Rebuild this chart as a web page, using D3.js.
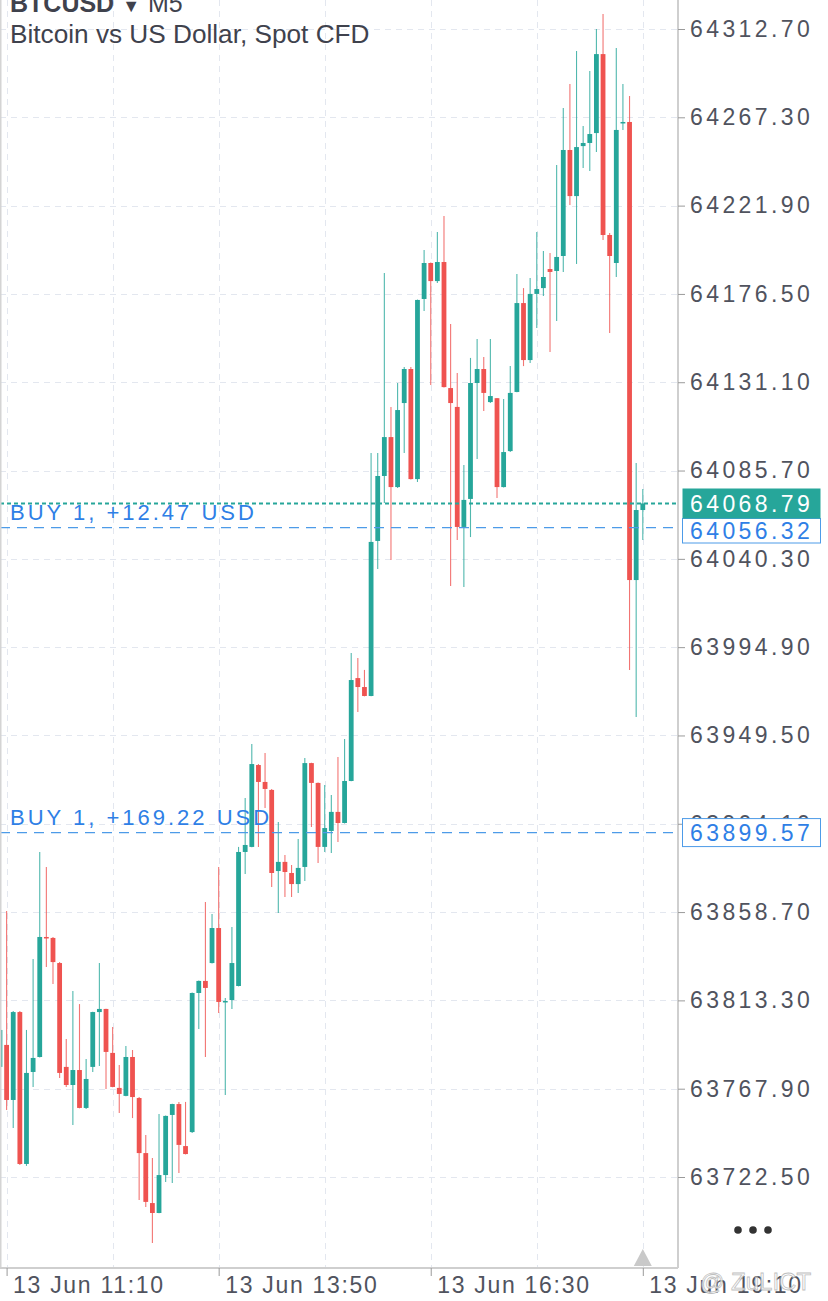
<!DOCTYPE html>
<html>
<head>
<meta charset="utf-8">
<script src="https://cdn.jsdelivr.net/npm/d3@7"></script>
<style>
  html, body { margin: 0; padding: 0; background: #fff; }
  svg { display: block; font-family: "Liberation Sans", Arial, sans-serif; }
</style>
</head>
<body>
<script>
// 5 minute bars, 13 Jun
const times = [
  "11:05","11:10","11:15","11:20","11:25","11:30","11:35","11:40","11:45","11:50","11:55",
  "12:00","12:05","12:10","12:15","12:20","12:25","12:30","12:35","12:40","12:45","12:50","12:55",
  "13:00","13:05","13:10","13:15","13:20","13:25","13:30","13:35","13:40","13:45","13:50","13:55",
  "14:00","14:05","14:10","14:15","14:20","14:25","14:30","14:35","14:40","14:45","14:50","14:55",
  "15:00","15:05","15:10","15:15","15:20","15:25","15:30","15:35","15:40","15:45","15:50","15:55",
  "16:00","16:05","16:10","16:15","16:20","16:25","16:30","16:35","16:40","16:45","16:50","16:55",
  "17:00","17:05","17:10","17:15","17:20","17:25","17:30","17:35","17:40","17:45","17:50","17:55",
  "18:00","18:05","18:10","18:15","18:20","18:25","18:30","18:35","18:40","18:45","18:50","18:55",
  "19:00","19:05","19:10"
];

const opens = [
  63779.1, 63790.4, 63762.1, 63807.3, 63729.2, 63776.5, 63784.2, 63845.9, 63845.4, 63832.5, 63779.1,
  63769.8, 63777.5, 63758.0, 63779.1, 63807.3, 63808.9, 63786.3, 63768.3, 63764.2, 63784.2, 63763.1, 63734.8,
  63709.1, 63704.0, 63723.5, 63754.4, 63760.0, 63738.4, 63745.6, 63817.1, 63823.3, 63832.5, 63850.5, 63812.7,
  63813.5, 63820.7, 63889.6, 63892.2, 63934.3, 63925.6, 63921.5, 63879.8, 63884.5, 63878.8, 63873.1, 63881.9,
  63935.3, 63925.1, 63892.2, 63900.4, 63910.2, 63904.5, 63926.1, 63979.0, 63974.4, 63969.8, 64049.5, 64082.9,
  64102.9, 64077.2, 64120.4, 64137.9, 64081.3, 64173.9, 64192.4, 64183.1, 64192.9, 64128.1, 64118.4, 64056.7,
  64071.1, 64130.7, 64137.9, 64120.9, 64122.9, 64077.2, 64095.7, 64126.1, 64171.8, 64142.5, 64176.5, 64179.5,
  64189.3, 64188.3, 64196.0, 64250.5, 64226.8, 64252.5, 64254.1, 64259.2, 64299.8, 64206.8, 64192.4, 64264.4,
  64264.9, 64029.4, 64065.4
];

const highs = [
  63800.7, 63859.3, 63807.8, 63807.8, 63798.1, 63834.6, 63889.6, 63881.9, 63845.9, 63833.0, 63793.4,
  63818.1, 63811.4, 63783.2, 63807.5, 63832.5, 63809.0, 63799.6, 63780.1, 63789.9, 63787.8, 63763.6, 63744.1,
  63732.3, 63754.9, 63754.1, 63760.2, 63761.1, 63761.1, 63817.3, 63823.5, 63863.9, 63857.7, 63881.9, 63814.5,
  63851.0, 63892.2, 63917.3, 63945.1, 63934.8, 63940.5, 63922.0, 63905.0, 63888.0, 63882.9, 63896.3, 63937.9,
  63935.5, 63925.3, 63924.0, 63918.9, 63938.4, 63947.7, 63991.9, 63989.3, 63983.2, 64094.7, 64094.7, 64187.3,
  64118.4, 64130.7, 64138.9, 64138.9, 64173.6, 64199.1, 64192.6, 64208.3, 64216.6, 64161.0, 64135.8, 64088.5,
  64143.6, 64153.3, 64144.1, 64153.3, 64123.0, 64122.5, 64139.4, 64186.7, 64179.5, 64184.7, 64208.3, 64198.6,
  64197.5, 64242.8, 64272.1, 64284.4, 64301.4, 64262.8, 64291.1, 64312.7, 64320.4, 64207.8, 64302.9, 64284.4,
  64278.2, 64089.6, 64076.2
];

const lows = [
  63776.5, 63757.0, 63747.7, 63728.7, 63728.2, 63768.8, 63784.0, 63830.5, 63821.7, 63773.4, 63768.8,
  63749.2, 63757.8, 63757.5, 63776.5, 63779.6, 63767.7, 63768.6, 63755.4, 63764.0, 63752.8, 63710.7, 63707.1,
  63688.6, 63703.8, 63719.9, 63719.4, 63724.6, 63734.1, 63745.1, 63798.6, 63784.2, 63832.3, 63806.8, 63764.7,
  63808.9, 63820.5, 63878.3, 63892.0, 63892.2, 63912.2, 63871.6, 63858.2, 63866.5, 63866.5, 63868.5, 63874.7,
  63902.4, 63883.9, 63889.6, 63889.1, 63894.7, 63904.3, 63925.9, 63961.6, 63969.6, 63969.6, 64035.1, 64069.0,
  64039.7, 64076.7, 64094.7, 64081.1, 64079.8, 64167.7, 64129.7, 64182.1, 64128.4, 64026.3, 64050.0, 64025.8,
  64051.5, 64091.6, 64116.3, 64120.4, 64071.6, 64077.0, 64095.2, 64125.9, 64139.4, 64141.0, 64159.0, 64175.4,
  64146.6, 64162.6, 64187.8, 64222.2, 64191.9, 64241.2, 64239.7, 64249.5, 64204.2, 64156.4, 64185.2, 64260.8,
  63983.2, 63959.0, 64050.0
];

const closes = [
  63798.1, 63762.1, 63807.3, 63729.2, 63776.0, 63783.7, 63845.9, 63845.4, 63833.0, 63776.0, 63769.8,
  63777.5, 63758.0, 63772.9, 63807.3, 63808.9, 63786.8, 63768.8, 63765.2, 63784.2, 63763.6, 63734.8, 63709.7,
  63704.0, 63723.5, 63753.9, 63760.0, 63739.0, 63734.3, 63817.1, 63823.3, 63819.7, 63850.5, 63812.5, 63813.0,
  63832.5, 63889.6, 63893.2, 63934.8, 63925.6, 63922.0, 63878.8, 63884.5, 63879.3, 63873.1, 63881.4, 63935.3,
  63925.1, 63892.2, 63901.9, 63910.2, 63904.5, 63926.1, 63978.0, 63974.4, 63969.8, 64049.0, 64082.9, 64102.9,
  64077.2, 64116.8, 64137.9, 64081.3, 64173.4, 64192.4, 64183.1, 64192.9, 64128.6, 64120.4, 64056.7, 64070.6,
  64130.7, 64137.9, 64125.6, 64124.0, 64077.2, 64095.2, 64125.6, 64171.8, 64142.5, 64176.5, 64179.0, 64185.2,
  64187.8, 64195.5, 64250.5, 64226.8, 64252.0, 64254.1, 64258.7, 64299.8, 64206.8, 64196.0, 64260.8, 64264.9,
  64029.4, 64065.4, 64068.79
];

const priceTicks = [64312.70, 64267.30, 64221.90, 64176.50, 64131.10, 64085.70, 64040.30,
  63994.90, 63949.50, 63904.10, 63858.70, 63813.30, 63767.90, 63722.50];
const gridTimes = ["11:10", "12:30", "13:50", "15:10", "16:30", "17:50", "19:10"];
const labelTimes = ["11:10", "13:50", "16:30", "19:10"];

const lastPrice = 64068.79;
const positions = [
  { label: "BUY 1, +12.47 USD", price: 64056.32 },
  { label: "BUY 1, +169.22 USD", price: 63899.57 }
];

const width = 828, height = 1301;
const plotRight = 678, plotBottom = 1268;
const up = "#26a69a", down = "#ef5350", blue = "#2f7fe6";
const axisText = "#50535e";

const parseTime = t => d3.timeParse("%Y-%m-%d %H:%M")("2024-06-13 " + t);
const bars = times.map((t, i) => ({
  date: parseTime(t), open: opens[i], high: highs[i], low: lows[i], close: closes[i]
}));

const svg = d3.select("body").append("svg")
    .attr("width", width)
    .attr("height", height);

svg.append("rect").attr("width", width).attr("height", height).attr("fill", "#fff");

const x = d3.scaleTime()
    .domain([parseTime("11:10"), parseTime("19:10")])
    .range([6.6, 642.8]);

const y = d3.scaleLinear()
    .domain([63722.50, 64312.70])
    .range([1177, 29]);

// grid
const grid = svg.append("g")
    .attr("stroke", "#e3e7ef")
    .attr("stroke-width", 1)
    .attr("stroke-dasharray", "6,5");

grid.selectAll("line.h")
  .data(priceTicks)
  .join("line")
    .attr("x1", 0).attr("x2", plotRight)
    .attr("y1", d => Math.round(y(d)) + 0.5)
    .attr("y2", d => Math.round(y(d)) + 0.5);

grid.selectAll("line.v")
  .data(gridTimes.map(parseTime))
  .join("line")
    .attr("x1", d => Math.round(x(d)) + 0.5)
    .attr("x2", d => Math.round(x(d)) + 0.5)
    .attr("y1", 0).attr("y2", plotBottom);

// candles
const bodyW = 4.8;
const candle = svg.append("g")
  .selectAll("g")
  .data(bars)
  .join("g")
    .attr("transform", d => `translate(${x(d.date)},0)`);

candle.append("line")
    .attr("y1", d => y(d.high))
    .attr("y2", d => y(d.low))
    .attr("stroke", d => d.close >= d.open ? up : down)
    .attr("stroke-opacity", 0.8)
    .attr("stroke-width", 1.1);

candle.append("rect")
    .attr("x", -bodyW / 2)
    .attr("y", d => y(Math.max(d.open, d.close)))
    .attr("width", bodyW)
    .attr("height", d => Math.max(1.5, Math.abs(y(d.open) - y(d.close))))
    .attr("fill", d => d.close >= d.open ? up : down);

// position lines
positions.forEach(p => {
  svg.append("line")
      .attr("x1", 0).attr("x2", plotRight)
      .attr("y1", y(p.price)).attr("y2", y(p.price))
      .attr("stroke", "#4d9be8")
      .attr("stroke-width", 1.3)
      .attr("stroke-dasharray", "10,7");
  svg.append("text")
      .attr("x", 10)
      .attr("y", y(p.price) - 8)
      .attr("fill", blue)
      .attr("font-size", 22)
      .attr("letter-spacing", 3.0)
      .text(p.label);
});

// last price line
svg.append("line")
    .attr("x1", 0).attr("x2", plotRight)
    .attr("y1", y(lastPrice)).attr("y2", y(lastPrice))
    .attr("stroke", up)
    .attr("stroke-width", 2)
    .attr("stroke-dasharray", "4,3");

// frame
svg.append("line").attr("x1", 0.75).attr("x2", 0.75).attr("y1", 0).attr("y2", plotBottom)
    .attr("stroke", "#d4d4d4").attr("stroke-width", 1.5);
svg.append("line").attr("x1", plotRight).attr("x2", plotRight).attr("y1", 0).attr("y2", plotBottom)
    .attr("stroke", "#cfcfcf").attr("stroke-width", 2);
svg.append("line").attr("x1", 0).attr("x2", plotRight).attr("y1", plotBottom).attr("y2", plotBottom)
    .attr("stroke", "#cfcfcf").attr("stroke-width", 2);

// price axis
const yAxis = svg.append("g")
    .attr("transform", `translate(${plotRight},0)`)
    .call(d3.axisRight(y).tickValues(priceTicks).tickFormat(d3.format(".2f")).tickSize(7).tickPadding(5));
yAxis.select(".domain").remove();
yAxis.selectAll(".tick line").attr("stroke", "#9a9a9a");
yAxis.selectAll("text")
    .attr("fill", axisText)
    .attr("font-size", 23)
    .attr("letter-spacing", 3.4)
    .attr("font-family", "'Liberation Sans', Arial, sans-serif");

// price boxes
function priceBox(price, yTop, h, fill, stroke, color) {
  svg.append("rect")
      .attr("x", 682.5).attr("y", yTop)
      .attr("width", 138).attr("height", h)
      .attr("fill", fill)
      .attr("stroke", stroke)
      .attr("stroke-width", stroke === "none" ? 0 : 1);
  svg.append("text")
      .attr("x", 690)
      .attr("y", yTop + h / 2)
      .attr("dy", "0.36em")
      .attr("fill", color)
      .attr("font-size", 23)
      .attr("letter-spacing", 3.4)
      .text(d3.format(".2f")(price));
}
priceBox(positions[1].price, y(positions[1].price) - 14, 28, "#fff", "#4d9be8", blue);
priceBox(positions[0].price, 518.5, 24.5, "#fff", "#4d9be8", blue);
priceBox(lastPrice, 488.5, 30, up, "none", "#fff");

// time axis
const xAxis = svg.append("g")
    .attr("transform", `translate(0,${plotBottom})`)
    .call(d3.axisBottom(x).tickValues(labelTimes.map(parseTime)).tickSize(8).tickFormat(d3.timeFormat("13 Jun %H:%M")));
xAxis.select(".domain").remove();
xAxis.selectAll(".tick line").attr("stroke", "#9a9a9a");
xAxis.selectAll("text")
    .attr("text-anchor", "start")
    .attr("dx", 6)
    .attr("y", 25)
    .attr("dy", 0)
    .attr("fill", axisText)
    .attr("font-size", 23)
    .attr("letter-spacing", 1.7)
    .attr("font-family", "'Liberation Sans', Arial, sans-serif");

// title
const title = svg.append("text")
    .attr("x", 10).attr("y", 12)
    .attr("fill", "#3f424d")
    .attr("font-size", 25);
title.append("tspan").attr("font-weight", "bold").text("BTCUSD");
title.append("tspan").attr("font-size", 18).attr("dx", 8).text("▼");
title.append("tspan").attr("dx", 8).text("M5");

svg.append("text")
    .attr("x", 10).attr("y", 43)
    .attr("fill", "#3f424d")
    .attr("font-size", 26.2)
    .text("Bitcoin vs US Dollar, Spot CFD");

// more menu and scroll marker
svg.append("g")
  .selectAll("circle")
  .data([738, 753, 768])
  .join("circle")
    .attr("cx", d => d).attr("cy", 1230).attr("r", 3.8)
    .attr("fill", "#333");

const mx = x(parseTime("19:10"));
svg.append("path")
    .attr("d", `M${mx - 9},1266 L${mx},1249 L${mx + 9},1266 Z`)
    .attr("fill", "#c9c9c9");

// watermark
svg.append("text")
    .attr("x", 700).attr("y", 1290)
    .attr("fill", "#fff")
    .attr("stroke", "#b5b5b5")
    .attr("stroke-width", 0.8)
    .attr("font-size", 24)
    .attr("opacity", 0.85)
    .text("@ ZuLICT");
</script>
</body>
</html>
